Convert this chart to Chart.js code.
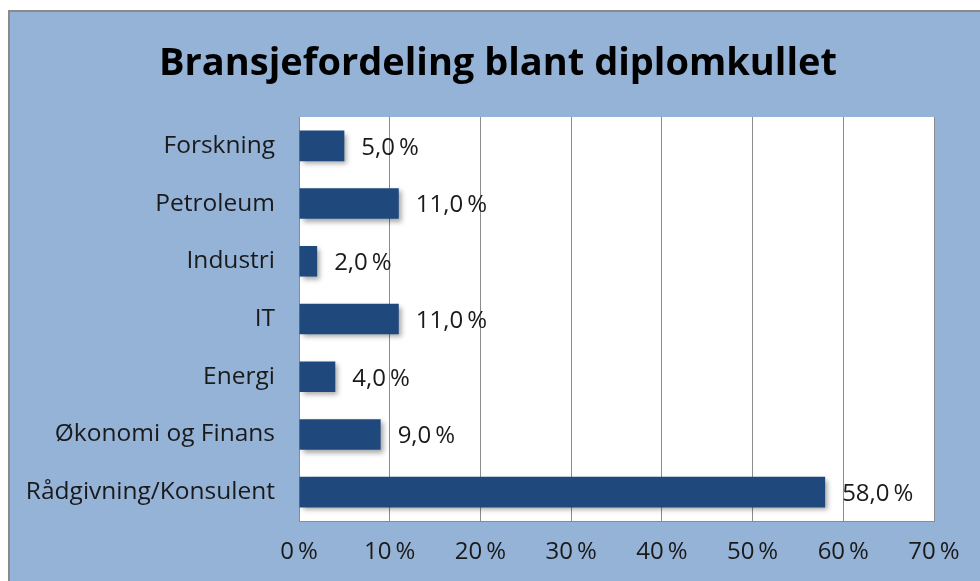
<!DOCTYPE html>
<html>
<head>
<meta charset="utf-8">
<title>Bransjefordeling blant diplomkullet</title>
<script src="https://cdn.jsdelivr.net/npm/chart.js@4"></script>
<style>
  body { margin: 0; background: #fff; }
  #wrap {
    position: absolute; left: 8px; top: 10px;
    width: 970px; height: 569px;
    border-left: 2px solid #8a8a8a; border-top: 2px solid #8a8a8a;
    background: #95b3d7;
  }
</style>
</head>
<body>
<div id="wrap"><canvas id="chart" width="970" height="569"></canvas></div>
<script>
const chartTitle = 'Bransjefordeling blant diplomkullet';
const categories = ['Forskning', 'Petroleum', 'Industri', 'IT', 'Energi', 'Økonomi og Finans', 'Rådgivning/Konsulent'];
const shares = [5, 11, 2, 11, 4, 9, 58];
const axisTicks = [0, 10, 20, 30, 40, 50, 60, 70];

const fontFamily = '"Open Sans", "Noto Sans", sans-serif';
const pct = (v, d) => v.toFixed(d).replace('.', ',') + '\u2009%';

// white plot area
const plotBg = {
    id: 'plotBg',
    beforeDraw(chart) {
        const a = chart.chartArea, ctx = chart.ctx;
        ctx.save();
        ctx.fillStyle = '#ffffff';
        ctx.fillRect(a.left, a.top, a.right - a.left, a.bottom - a.top);
        ctx.restore();
    }
};

// title centred on the whole chart, not on the padded box
const chartHeading = {
    id: 'chartHeading',
    afterDraw(chart) {
        const ctx = chart.ctx;
        ctx.save();
        ctx.font = 'bold 38px ' + fontFamily;
        ctx.fillStyle = '#000';
        ctx.textAlign = 'center';
        ctx.textBaseline = 'middle';
        ctx.fillText(chartTitle, chart.width / 2 + 3, 52);
        ctx.restore();
    }
};

// soft shadow under the bars, like the office chart
const barShadow = {
    id: 'barShadow',
    beforeDatasetsDraw(chart) {
        const ctx = chart.ctx;
        ctx.save();
        ctx.shadowColor = 'rgba(0,0,0,0.35)';
        ctx.shadowBlur = 5;
        ctx.shadowOffsetX = 3;
        ctx.shadowOffsetY = 3;
    },
    afterDatasetsDraw(chart) {
        chart.ctx.restore();
    }
};

const valueLabels = {
    id: 'valueLabels',
    afterDraw(chart) {
        const ctx = chart.ctx;
        const meta = chart.getDatasetMeta(0);
        ctx.save();
        ctx.font = '24px ' + fontFamily;
        ctx.fillStyle = '#1a1a1a';
        ctx.textBaseline = 'middle';
        meta.data.forEach((bar, i) => {
            ctx.fillText(pct(shares[i], 1), bar.x + 17, bar.y + 2);
        });
        ctx.restore();
    }
};

new Chart(document.getElementById('chart'), {
    type: 'bar',
    data: {
        labels: categories,
        datasets: [{
            data: shares,
            backgroundColor: '#1f497d',
            barPercentage: 0.53,
            categoryPercentage: 1
        }]
    },
    options: {
        indexAxis: 'y',
        responsive: false,
        animation: false,
        layout: { padding: { left: 0, right: 46, top: 105, bottom: 0 } },
        plugins: {
            legend: { display: false },
            tooltip: { enabled: false },
            title: { display: false }
        },
        scales: {
            x: {
                min: 0,
                max: 70,
                afterBuildTicks(axis) {
                    axis.ticks = axisTicks.map(v => ({ value: v }));
                },
                afterFit(axis) { axis.height = 60; },
                ticks: {
                    color: '#1a1a1a',
                    font: { family: fontFamily, size: 24 },
                    padding: 17,
                    callback: v => v + '\u2009%'
                },
                grid: { color: '#8c8c8c', lineWidth: 1, drawTicks: false },
                border: { display: true, color: '#8c8c8c' }
            },
            y: {
                afterFit(axis) { axis.width = 289; },
                ticks: {
                    color: '#1a1a1a',
                    font: { family: fontFamily, size: 24.5 },
                    padding: 24
                },
                grid: { display: false, drawTicks: false },
                border: { display: true, color: '#8c8c8c' }
            }
        }
    },
    plugins: [plotBg, chartHeading, barShadow, valueLabels]
});
</script>
</body>
</html>
